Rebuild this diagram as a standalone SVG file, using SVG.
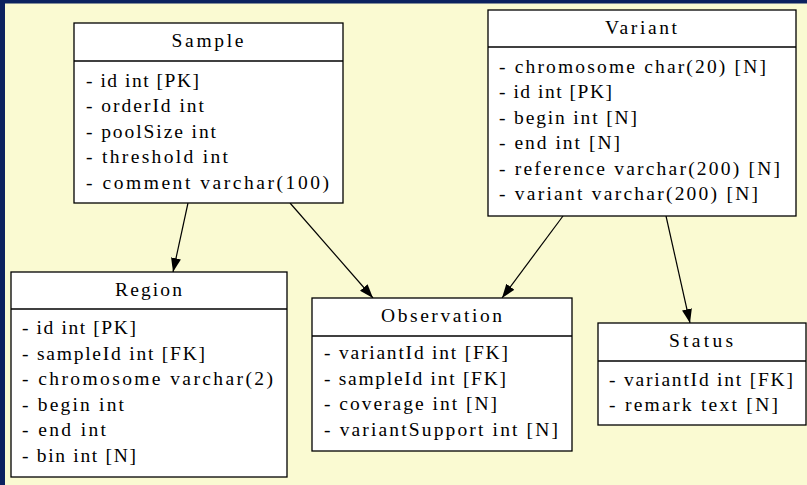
<svg xmlns="http://www.w3.org/2000/svg" width="807" height="485" viewBox="0 0 807 485">
  <style>
    .box { fill: #ffffff; stroke: #000000; stroke-width: 1.3; }
    .sep { stroke: #000000; stroke-width: 1.3; }
    .t { font-family: "Liberation Serif", "Times New Roman", serif; font-size: 19.5px; fill: #000000; }
    .edge { fill: none; stroke: #000000; stroke-width: 1.2; }
  </style>
  <defs>
    <marker id="arrow" markerUnits="userSpaceOnUse" markerWidth="15" markerHeight="11" refX="14" refY="5" orient="auto">
      <path d="M0,0 L14,5 L0,10 z" fill="#000000"/>
    </marker>
  </defs>

  <!-- canvas -->
  <rect x="0" y="0" width="807" height="485" fill="#fafad2"/>
  <rect x="0" y="0" width="807" height="3.5" fill="#0b215f"/>
  <rect x="0" y="0" width="5" height="485" fill="#0b215f"/>

  <!-- relations -->
  <g id="edges">
    <line class="edge" x1="188" y1="203" x2="173" y2="272" marker-end="url(#arrow)"/>
    <line class="edge" x1="290" y1="203" x2="373" y2="298" marker-end="url(#arrow)"/>
    <line class="edge" x1="563" y1="216" x2="502" y2="298" marker-end="url(#arrow)"/>
    <line class="edge" x1="666" y1="216" x2="690" y2="323" marker-end="url(#arrow)"/>
  </g>

  <!-- tables -->
  <g id="Sample">
    <rect class="box" x="74" y="23" width="269" height="180"/>
    <line class="sep" x1="74" y1="61" x2="343" y2="61"/>
    <text class="t" x="171.5" y="47" textLength="72" lengthAdjust="spacing">Sample</text>
    <text class="t" x="86" y="86.5" textLength="113" lengthAdjust="spacing">- id int [PK]</text>
    <text class="t" x="86" y="112" textLength="118" lengthAdjust="spacing">- orderId int</text>
    <text class="t" x="86" y="137.5" textLength="130" lengthAdjust="spacing">- poolSize int</text>
    <text class="t" x="86" y="163" textLength="142" lengthAdjust="spacing">- threshold int</text>
    <text class="t" x="86" y="188.5" textLength="243" lengthAdjust="spacing">- comment varchar(100)</text>
  </g>

  <g id="Variant">
    <rect class="box" x="488" y="10" width="308" height="206"/>
    <line class="sep" x1="488" y1="47" x2="796" y2="47"/>
    <text class="t" x="605" y="33.5" textLength="72" lengthAdjust="spacing">Variant</text>
    <text class="t" x="499" y="72.5" textLength="267" lengthAdjust="spacing">- chromosome char(20) [N]</text>
    <text class="t" x="499" y="98" textLength="113" lengthAdjust="spacing">- id int [PK]</text>
    <text class="t" x="499" y="123.5" textLength="138" lengthAdjust="spacing">- begin int [N]</text>
    <text class="t" x="499" y="149" textLength="121" lengthAdjust="spacing">- end int [N]</text>
    <text class="t" x="499" y="174.5" textLength="281" lengthAdjust="spacing">- reference varchar(200) [N]</text>
    <text class="t" x="499" y="200" textLength="259" lengthAdjust="spacing">- variant varchar(200) [N]</text>
  </g>

  <g id="Region">
    <rect class="box" x="11" y="272" width="276" height="205"/>
    <line class="sep" x1="11" y1="309" x2="287" y2="309"/>
    <text class="t" x="115" y="296" textLength="67" lengthAdjust="spacing">Region</text>
    <text class="t" x="22" y="334" textLength="114" lengthAdjust="spacing">- id int [PK]</text>
    <text class="t" x="22" y="359.5" textLength="183" lengthAdjust="spacing">- sampleId int [FK]</text>
    <text class="t" x="22" y="385" textLength="251" lengthAdjust="spacing">- chromosome varchar(2)</text>
    <text class="t" x="22" y="410.5" textLength="102" lengthAdjust="spacing">- begin int</text>
    <text class="t" x="22" y="436" textLength="84" lengthAdjust="spacing">- end int</text>
    <text class="t" x="22" y="461.5" textLength="114" lengthAdjust="spacing">- bin int [N]</text>
  </g>

  <g id="Observation">
    <rect class="box" x="312" y="298" width="260" height="153"/>
    <line class="sep" x1="312" y1="336" x2="572" y2="336"/>
    <text class="t" x="381" y="322" textLength="121" lengthAdjust="spacing">Observation</text>
    <text class="t" x="324" y="359" textLength="184" lengthAdjust="spacing">- variantId int [FK]</text>
    <text class="t" x="324" y="384.5" textLength="182" lengthAdjust="spacing">- sampleId int [FK]</text>
    <text class="t" x="324" y="410" textLength="173" lengthAdjust="spacing">- coverage int [N]</text>
    <text class="t" x="324" y="435.5" textLength="234" lengthAdjust="spacing">- variantSupport int [N]</text>
  </g>

  <g id="Status">
    <rect class="box" x="598" y="323" width="208" height="102"/>
    <line class="sep" x1="598" y1="361" x2="806" y2="361"/>
    <text class="t" x="669" y="347" textLength="64" lengthAdjust="spacing">Status</text>
    <text class="t" x="609" y="385.5" textLength="184" lengthAdjust="spacing">- variantId int [FK]</text>
    <text class="t" x="609" y="411" textLength="169" lengthAdjust="spacing">- remark text [N]</text>
  </g>
</svg>
